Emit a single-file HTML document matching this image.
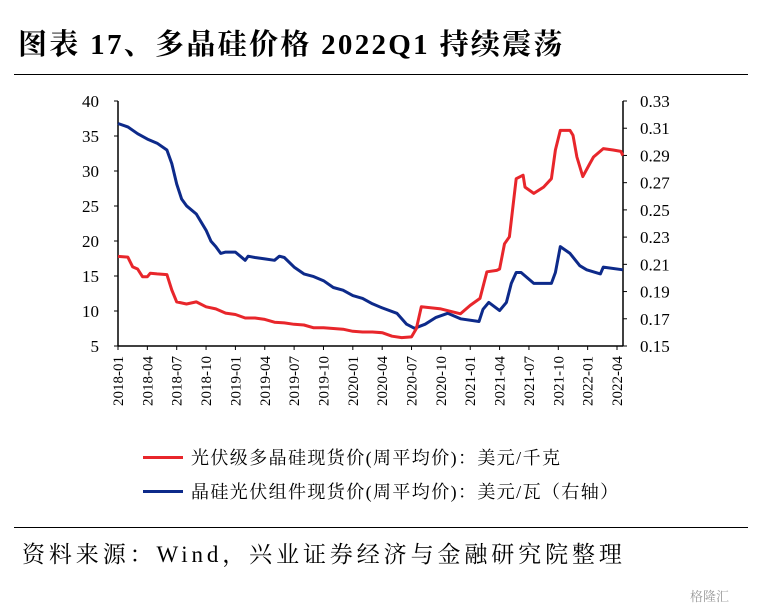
<!DOCTYPE html>
<html><head><meta charset="utf-8"><style>
body{margin:0;background:#fff;width:765px;height:613px;overflow:hidden;position:relative;font-family:"Liberation Serif","Noto Serif CJK SC",serif;}
.t{position:absolute;white-space:nowrap;}
</style></head><body>
<div class="t" style="left:18px;top:22px;font-size:29px;font-weight:bold;color:#000;letter-spacing:2.3px;">图表 17、多晶硅价格 2022Q1 持续震荡</div>
<div style="position:absolute;left:14px;top:74px;width:734px;height:1px;background:#000"></div>
<svg id="chart" width="765" height="440" style="position:absolute;left:0;top:0" xmlns="http://www.w3.org/2000/svg"></svg>
<div style="position:absolute;left:143px;top:444px;"><span style="display:inline-block;width:40px;height:3px;background:#e8262b;vertical-align:middle"></span><span style="font-size:18px;margin-left:8px;vertical-align:middle;letter-spacing:1.4px">光伏级多晶硅现货价(周平均价)：美元/千克</span></div>
<div style="position:absolute;left:143px;top:478px;"><span style="display:inline-block;width:40px;height:3px;background:#0d2a8a;vertical-align:middle"></span><span style="font-size:18px;margin-left:8px;vertical-align:middle;letter-spacing:1.4px">晶硅光伏组件现货价(周平均价)：美元/瓦（右轴）</span></div>
<div style="position:absolute;left:14px;top:527px;width:734px;height:1px;background:#000"></div>
<div class="t" style="left:22px;top:536px;font-size:23px;letter-spacing:3.9px;">资料来源：Wind，兴业证券经济与金融研究院整理</div>
<div class="t" style="left:690px;top:586px;font-size:13px;color:#999;">格隆汇</div>
<script>
const xTickLabels=["2018-01","2018-04","2018-07","2018-10","2019-01","2019-04","2019-07","2019-10","2020-01","2020-04","2020-07","2020-10","2021-01","2021-04","2021-07","2021-10","2022-01","2022-04"];
const leftTicks=[5,10,15,20,25,30,35,40];
const rightTicks=["0.15","0.17","0.19","0.21","0.23","0.25","0.27","0.29","0.31","0.33"];
const redMonths=[0,1,1.5,2,2.5,3,3.3,4,5,5.5,6,7,8,9,10,11,12,13,14,15,16,17,18,19,20,21,22,23,24,25,26,27,28,29,30,30.5,31,33,35,36,37,37.7,38.7,39,39.5,40,40.7,41.4,41.6,42.5,43.5,44.3,44.7,45.2,46.2,46.5,46.9,47.5,48.2,48.6,49.6,50.6,51.4,51.6];
const redValues=[17.8,17.7,16.3,16,14.9,14.9,15.4,15.3,15.2,13,11.3,11.0,11.3,10.6,10.3,9.7,9.5,9.0,9.0,8.8,8.4,8.3,8.1,8.0,7.6,7.6,7.5,7.4,7.1,7.0,7.0,6.9,6.4,6.2,6.3,7.5,10.6,10.3,9.6,10.8,11.8,15.6,15.8,16.0,19.6,20.6,28.9,29.4,27.7,26.8,27.7,28.9,33,35.8,35.8,35.1,32,29.2,31,32,33.2,33,32.8,32.2];
const blueMonths=[0,1,2,3,4,5,5.5,6,6.5,7,8,9,9.5,10,10.5,11,12,13,13.3,14,15,16,16.5,17,18,19,20,21,22,23,24,25,26,27,28.5,29.5,30.3,31.4,32.5,33.7,35,36.9,37.3,37.9,39,39.7,40.2,40.7,41.2,42.5,44.3,44.7,45.2,46.2,47.2,47.9,49.3,49.6,51.6];
const blueValues=[0.3135,0.311,0.306,0.302,0.299,0.294,0.284,0.269,0.258,0.253,0.247,0.235,0.227,0.223,0.218,0.219,0.219,0.213,0.216,0.215,0.214,0.213,0.216,0.215,0.208,0.203,0.201,0.198,0.193,0.191,0.187,0.185,0.181,0.178,0.174,0.166,0.163,0.166,0.171,0.174,0.170,0.168,0.177,0.182,0.176,0.182,0.196,0.204,0.204,0.196,0.196,0.204,0.223,0.218,0.209,0.206,0.203,0.208,0.206];
const svg=document.getElementById('chart');const NS='http://www.w3.org/2000/svg';
const X0=118,X1=623,Y0=346,Y1=101;
const xm=m=>X0+m*(617-118)/51;
const yl=v=>Y0-(v-5)/35*(Y0-Y1);
const yr=v=>Y0-(v-0.15)/0.18*(Y0-Y1);
function mk(tag,attrs){const e=document.createElementNS(NS,tag);for(const k in attrs)e.setAttribute(k,attrs[k]);svg.appendChild(e);return e;}
let e;
e=mk('line',{x1:X0,y1:Y1,x2:X0,y2:Y0,stroke:'#000','stroke-width':1.5});


e=mk('line',{x1:X1,y1:Y1,x2:X1,y2:Y0,stroke:'#000','stroke-width':1.5});


e=mk('line',{x1:X0,y1:Y0,x2:X1,y2:Y0,stroke:'#000','stroke-width':1.5});


leftTicks.forEach(v=>{const y=yl(v);
mk('line',{x1:X0-4,y1:y,x2:X0,y2:y,stroke:'#000'});
e=mk('text',{x:99,y:y+6,'text-anchor':'end','font-size':17,'font-family':'Liberation Serif,serif'});e.textContent=v;

});
rightTicks.forEach(s=>{const y=yr(parseFloat(s));
mk('line',{x1:X1,y1:y,x2:X1+4,y2:y,stroke:'#000'});
e=mk('text',{x:640,y:y+6,'font-size':17,'font-family':'Liberation Serif,serif'});e.textContent=s;

});
xTickLabels.forEach((s,i)=>{const x=xm(i*3);
mk('line',{x1:x,y1:Y0,x2:x,y2:Y0+4,stroke:'#000'});
e=mk('text',{x:0,y:0,'text-anchor':'end','font-size':15,'font-family':'Liberation Serif,serif',transform:`translate(${x+5},${Y0+10}) rotate(-90)`});e.textContent=s;

});
function path(ms,vs,f){return ms.map((m,i)=>(i?'L':'M')+xm(m).toFixed(1)+','+f(vs[i]).toFixed(1)).join('');}
e=mk('path',{d:path(blueMonths,blueValues,yr),fill:'none',stroke:'#0d2a8a','stroke-width':3,'stroke-linejoin':'round'});


e=mk('path',{d:path(redMonths,redValues,yl),fill:'none',stroke:'#e8262b','stroke-width':3,'stroke-linejoin':'round'});


</script>
</body></html>
